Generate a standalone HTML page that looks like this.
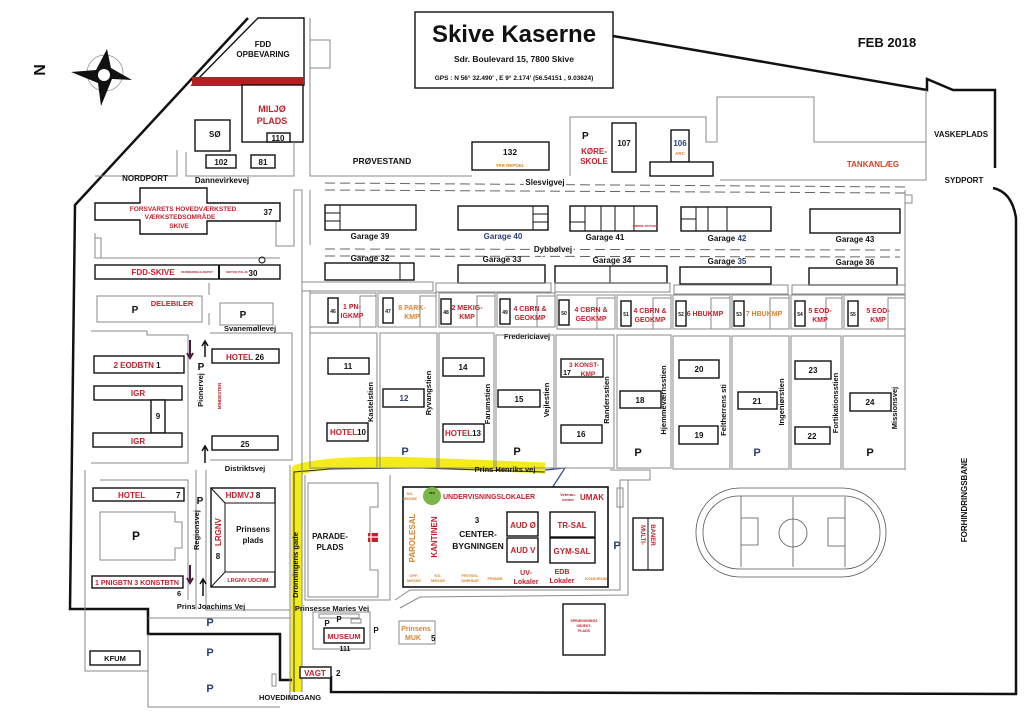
<!DOCTYPE html>
<html><head><meta charset="utf-8"><style>
html,body{margin:0;padding:0;background:#fff;}
svg{display:block;font-family:"Liberation Sans",sans-serif;font-weight:bold;}
.g{fill:none;stroke:#8a8a8a;stroke-width:1}
.b{fill:#fff;stroke:#111;stroke-width:1.4}
.r{fill:#c3202c}
.o{fill:#d8842f}
.n{fill:#2a3f75}
.k{fill:#111}
</style></head><body>
<svg width="1024" height="727" viewBox="0 0 1024 727" xmlns="http://www.w3.org/2000/svg">
<rect width="1024" height="727" fill="#fff"/>
<!-- yellow route -->
<path d="M296 692 L297 470 Q330 460 420 463 L545 468" fill="none" stroke="#f3ec1a" stroke-width="11" stroke-linejoin="round"/>
<path d="M294 692 L294 472 L330 469 L420 468 L545 472" fill="none" stroke="#333" stroke-width="1"/>
<path d="M545 470 L565 468 L552 488" fill="none" stroke="#3040a0" stroke-width="1.2"/>
<!-- thick boundary -->
<path d="M248 18 L75 205 L70 609 L148 609 L148 634 L280 634 L280 680 L292 680" fill="none" stroke="#111" stroke-width="2.5"/>
<path d="M331 676 L331 692 L1016 694 L1016 218 Q1012 192 993 188" fill="none" stroke="#111" stroke-width="2.5"/>
<path d="M613 36 L927 90 L927 79 L953 90 L995 90 L995 168" fill="none" stroke="#111" stroke-width="2.5"/>
<!-- title -->
<rect x="415" y="12" width="198" height="76" class="b" stroke-width="1"/>
<text x="514" y="42" font-size="24" text-anchor="middle" class="k">Skive Kaserne</text>
<text x="514" y="62" font-size="8.5" text-anchor="middle" class="k">Sdr. Boulevard 15,  7800 Skive</text>
<text x="514" y="80" font-size="6.5" text-anchor="middle" class="k">GPS : N 56° 32.490' , E 9° 2.174'  (56.54151 , 9.03624)</text>
<text x="887" y="47" font-size="13" text-anchor="middle" class="k">FEB 2018</text>
<!-- compass -->
<text x="45" y="70" font-size="16" class="k" text-anchor="middle" transform="rotate(-90 45 70)">N</text>
<circle cx="105" cy="73" r="18" fill="none" stroke="#888" stroke-width="0.7"/>
<path d="M107 49 L111 68 L132 80 L112 79 L101 106 L98 83 L71 72 L96 70 Z" fill="#111"/>
<circle cx="104" cy="75" r="6" fill="#fff"/>
<!-- north area -->
<path d="M258 18 L304 18 L304 85 L192 85 Z" class="b" stroke-width="1"/>
<rect x="192" y="77" width="112" height="8" fill="#b61e20"/>
<text x="263" y="47" font-size="8" text-anchor="middle" class="k">FDD</text>
<text x="263" y="57" font-size="8" text-anchor="middle" class="k">OPBEVARING</text>
<rect x="242" y="85" width="61" height="57" class="b" stroke-width="1"/>
<text x="272" y="112" font-size="9" text-anchor="middle" class="r">MILJØ</text>
<text x="272" y="124" font-size="9" text-anchor="middle" class="r">PLADS</text>
<rect x="267" y="133" width="23" height="9" class="b"/><text x="278" y="141" font-size="8" text-anchor="middle" class="k">110</text>
<rect x="195" y="120" width="35" height="31" class="b"/><text x="209" y="137" font-size="8" class="k">SØ</text>
<rect x="206" y="155" width="30" height="13" class="b"/><text x="221" y="165" font-size="8" text-anchor="middle" class="k">102</text>
<rect x="251" y="155" width="24" height="13" class="b"/><text x="263" y="165" font-size="8" text-anchor="middle" class="k">81</text>
<path d="M310 18 L310 176 L472 176 M310 40 L330 40 L330 68 L310 68 M177 150 L177 176 L95 176 M186 152 L186 176 L294 176 L294 142" class="g"/>
<text x="145" y="181" font-size="8" text-anchor="middle" class="k">NORDPORT</text>
<text x="222" y="183" font-size="8" text-anchor="middle" class="k">Dannevirkevej</text>
<text x="382" y="164" font-size="8.5" text-anchor="middle" class="k">PRØVESTAND</text>
<rect x="472" y="142" width="77" height="28" class="b"/>
<text x="510" y="155" font-size="8.5" text-anchor="middle" class="k">132</text>
<text x="510" y="167" font-size="4.5" text-anchor="middle" class="o">TRR REPDEL</text>
<path d="M570 176 L570 117 L706 117 L706 142 L717 142 L717 97 L814 97 L814 142 L926 142 L926 180 L720 180 M926 90 L926 180" class="g"/>
<text x="582" y="139" font-size="10" class="k">P</text>
<text x="594" y="154" font-size="8" text-anchor="middle" class="r">KØRE-</text>
<text x="594" y="164" font-size="8" text-anchor="middle" class="r">SKOLE</text>
<rect x="612" y="123" width="24" height="49" class="b"/><text x="624" y="146" font-size="8" text-anchor="middle" class="k">107</text>
<rect x="671" y="130" width="18" height="32" class="b"/><text x="680" y="146" font-size="8" text-anchor="middle" class="n">106</text>
<text x="680" y="155" font-size="4.5" text-anchor="middle" class="o">ARC</text>
<rect x="650" y="162" width="63" height="14" class="b"/>
<text x="873" y="167" font-size="8" text-anchor="middle" fill="#d0452a">TANKANLÆG</text>
<text x="961" y="137" font-size="8" text-anchor="middle" class="k">VASKEPLADS</text>
<text x="964" y="183" font-size="8" text-anchor="middle" class="k">SYDPORT</text>
<!-- dashed roads -->
<path d="M325 183 L905 187 M325 190 L905 193 M325 249 L900 250 M325 256 L900 257" fill="none" stroke="#666" stroke-width="1" stroke-dasharray="10 5"/>
<text x="545" y="185" font-size="8" text-anchor="middle" fill="#fff" stroke="#fff" stroke-width="4">Slesvigvej</text>
<text x="545" y="185" font-size="8" text-anchor="middle" class="k">Slesvigvej</text>
<text x="553" y="252" font-size="8" text-anchor="middle" fill="#fff" stroke="#fff" stroke-width="4">Dybbølvej</text>
<text x="553" y="252" font-size="8" text-anchor="middle" class="k">Dybbølvej</text>
<!-- left column blocks -->
<path d="M95 203 L140 203 L140 188 L207 188 L207 203 L280 203 L280 221 L276 221 L276 246 L294 246 L294 190 L302 190 L302 290 M95 233 L95 258 L280 258 M95 238 L101 238 L101 258" class="g"/>
<path d="M95 203 L140 203 L140 188 L207 188 L207 203 L280 203 L280 221 L207 221 L207 234 L140 234 L140 220 L95 220 Z" class="b" stroke-width="1"/>
<text x="183" y="211" font-size="6.5" text-anchor="middle" class="r">FORSVARETS HOVEDVÆRKSTED</text>
<text x="180" y="219" font-size="6.5" text-anchor="middle" class="r">VÆRKSTEDSOMRÅDE</text>
<text x="179" y="228" font-size="6.5" text-anchor="middle" class="r">SKIVE</text>
<text x="268" y="215" font-size="8" text-anchor="middle" class="k">37</text>
<circle cx="262" cy="260" r="3" fill="none" stroke="#111"/>
<rect x="95" y="265" width="185" height="14" class="b"/>
<line x1="219" y1="265" x2="219" y2="279" stroke="#111" stroke-width="2"/>
<text x="153" y="275" font-size="8" text-anchor="middle" class="r">FDD-SKIVE</text>
<text x="197" y="273" font-size="3" text-anchor="middle" class="r">MUNDERINGS-DEPOT</text>
<text x="237" y="273" font-size="3" text-anchor="middle" class="r">MOTOR PULJE</text>
<text x="253" y="276" font-size="8" text-anchor="middle" class="k">30</text>
<path d="M97 296 L202 296 L202 322 L97 322 Z M220 303 L273 303 L273 325 L220 325 Z M209 283 L209 295 M209 313 L209 325 M302 290 L302 692 M310 290 L310 460" class="g"/>
<text x="135" y="313" font-size="10" text-anchor="middle" class="k">P</text>
<text x="172" y="306" font-size="7.5" text-anchor="middle" class="r">DELEBILER</text>
<text x="243" y="318" font-size="10" text-anchor="middle" class="k">P</text>
<text x="250" y="331" font-size="7.5" text-anchor="middle" class="k">Svanemøllevej</text>
<path d="M91 331 L147 331 L147 335 L188 335 L188 463 L91 463 M210 333 L292 333 L292 460 L210 460" class="g"/>
<rect x="94" y="356" width="90" height="17" class="b"/><text x="137" y="368" font-size="8" text-anchor="middle" class="r">2 EODBTN <tspan class="k">1</tspan></text>
<rect x="94" y="386" width="88" height="14" class="b"/><text x="138" y="396" font-size="8" text-anchor="middle" class="r">IGR</text>
<rect x="151" y="400" width="14" height="33" class="b"/><text x="158" y="419" font-size="8" text-anchor="middle" class="k">9</text>
<rect x="93" y="433" width="89" height="14" class="b"/><text x="138" y="444" font-size="8" text-anchor="middle" class="r">IGR</text>
<rect x="212" y="349" width="67" height="14" class="b"/><text x="245" y="360" font-size="8" text-anchor="middle"><tspan class="r">HOTEL</tspan><tspan class="k">  26</tspan></text>
<rect x="212" y="436" width="66" height="14" class="b"/><text x="245" y="447" font-size="8" text-anchor="middle" class="k">25</text>
<text x="201" y="370" font-size="10" text-anchor="middle" class="k">P</text>
<text x="203" y="390" font-size="7.5" text-anchor="middle" class="k" transform="rotate(-90 203 390)">Pionervej</text>
<text x="221" y="396" font-size="4.5" text-anchor="middle" class="r" transform="rotate(-90 221 396)">MINDESTEN</text>
<path d="M190 340 L190 357 M187 353 L190 358 L193 353" stroke="#4a1a40" stroke-width="2" fill="none"/>
<path d="M205 342 L205 357 M202 346 L205 341 L208 346" stroke="#111" stroke-width="1.5" fill="none"/>
<path d="M205 447 L205 463 M202 451 L205 446 L208 451" stroke="#111" stroke-width="1.5" fill="none"/>
<text x="245" y="471" font-size="7.5" text-anchor="middle" class="k">Distriktsvej</text>
<!-- garages -->
<rect x="325" y="205" width="91" height="25" class="b"/><path d="M340 205 L340 230 M325 213 L340 213 M325 221 L340 221" stroke="#111"/>
<rect x="458" y="206" width="90" height="24" class="b"/><path d="M533 206 L533 230 M533 214 L548 214 M533 222 L548 222" stroke="#111"/>
<rect x="570" y="206" width="87" height="25" class="b"/><path d="M585 206 L585 231 M570 222 L585 222 M601 206 L601 231 M615 206 L615 231 M634 206 L634 231" stroke="#111"/>
<text x="645" y="227" font-size="3" text-anchor="middle" class="r">SMØRE-STATION</text>
<rect x="681" y="207" width="90" height="24" class="b"/><path d="M696 207 L696 231 M681 219 L696 219 M708 207 L708 231 M727 207 L727 231" stroke="#111"/>
<rect x="810" y="209" width="90" height="24" class="b"/>
<text x="370" y="239" font-size="8" text-anchor="middle" class="k">Garage 39</text>
<text x="503" y="239" font-size="8" text-anchor="middle" class="n">Garage 40</text>
<text x="605" y="240" font-size="8" text-anchor="middle" class="k">Garage 41</text>
<text x="727" y="241" font-size="8" text-anchor="middle"><tspan class="k">Garage </tspan><tspan class="n">42</tspan></text>
<text x="855" y="242" font-size="8" text-anchor="middle" class="k">Garage 43</text>
<text x="370" y="261" font-size="8" text-anchor="middle" class="k">Garage 32</text>
<text x="502" y="262" font-size="8" text-anchor="middle" class="k">Garage 33</text>
<text x="612" y="263" font-size="8" text-anchor="middle" class="k">Garage 34</text>
<text x="727" y="264" font-size="8" text-anchor="middle"><tspan class="k">Garage </tspan><tspan class="n">35</tspan></text>
<text x="855" y="265" font-size="8" text-anchor="middle" class="k">Garage 36</text>
<rect x="325" y="263" width="89" height="17" class="b"/><line x1="400" y1="263" x2="400" y2="280" stroke="#111"/>
<rect x="458" y="265" width="87" height="18" class="b"/>
<rect x="555" y="266" width="112" height="17" class="b"/><line x1="610" y1="266" x2="610" y2="283" stroke="#111"/>
<rect x="680" y="267" width="91" height="17" class="b"/>
<rect x="809" y="268" width="88" height="17" class="b"/>
<path d="M302 282 L433 282 L433 291 L302 291 Z M436 283 L551 283 L551 292 L436 292 Z M555 283 L670 283 L670 292 L555 292 Z M674 285 L788 285 L788 294 L674 294 Z M792 285 L905 285 L905 294 L792 294 Z M905 190 L905 470 M310 190 L310 245 M905 195 L912 195 L912 203 L905 203" class="g"/>
<!-- small buildings row -->
<g class="g">
<rect x="310" y="293" width="66" height="34"/><rect x="378" y="293" width="58" height="34"/><rect x="439" y="293" width="56" height="34"/><rect x="497" y="293" width="58" height="34"/><rect x="557" y="295" width="58" height="34"/><rect x="617" y="295" width="54" height="34"/><rect x="673" y="295" width="57" height="34"/><rect x="732" y="295" width="57" height="34"/><rect x="791" y="295" width="51" height="34"/><rect x="844" y="295" width="61" height="34"/>
<rect x="360" y="296" width="16" height="31"/><rect x="420" y="296" width="16" height="31"/><rect x="477" y="296" width="18" height="31"/><rect x="537" y="296" width="18" height="31"/><rect x="597" y="298" width="18" height="31"/><rect x="653" y="298" width="18" height="31"/><rect x="711" y="298" width="19" height="31"/><rect x="770" y="298" width="19" height="31"/><rect x="826" y="298" width="16" height="31"/><rect x="888" y="298" width="17" height="31"/>
</g>
<g font-size="5" text-anchor="middle" class="k">
<rect x="328" y="298" width="10" height="25" class="b"/><text x="333" y="313">46</text>
<rect x="383" y="298" width="10" height="25" class="b"/><text x="388" y="313">47</text>
<rect x="441" y="299" width="10" height="25" class="b"/><text x="446" y="314">48</text>
<rect x="500" y="299" width="10" height="25" class="b"/><text x="505" y="314">49</text>
<rect x="559" y="300" width="10" height="25" class="b"/><text x="564" y="315">50</text>
<rect x="621" y="301" width="10" height="25" class="b"/><text x="626" y="316">51</text>
<rect x="676" y="301" width="10" height="25" class="b"/><text x="681" y="316">52</text>
<rect x="734" y="301" width="10" height="25" class="b"/><text x="739" y="316">53</text>
<rect x="795" y="301" width="10" height="25" class="b"/><text x="800" y="316">54</text>
<rect x="848" y="301" width="10" height="25" class="b"/><text x="853" y="316">55</text>
</g>
<g font-size="7" text-anchor="middle">
<text x="352" y="309" class="r">1 PN-</text><text x="352" y="318" class="r">IGKMP</text>
<text x="412" y="310" class="o">8 PARK-</text><text x="412" y="319" class="o">KMP</text>
<text x="467" y="310" class="r">2 MEKIG-</text><text x="467" y="319" class="r">KMP</text>
<text x="530" y="311" class="r">4 CBRN &amp;</text><text x="530" y="320" class="r">GEOKMP</text>
<text x="591" y="312" class="r">4 CBRN &amp;</text><text x="591" y="321" class="r">GEOKMP</text>
<text x="650" y="313" class="r">4 CBRN &amp;</text><text x="650" y="322" class="r">GEOKMP</text>
<text x="705" y="316" class="r">6 HBUKMP</text>
<text x="764" y="316" class="o">7 HBUKMP</text>
<text x="820" y="313" class="r">5 EOD-</text><text x="820" y="322" class="r">KMP</text>
<text x="878" y="313" class="r">5 EOD-</text><text x="878" y="322" class="r">KMP</text>
</g>
<text x="527" y="339" font-size="7.5" text-anchor="middle" class="k">Fredericiavej</text>
<!-- big blocks -->
<g class="g">
<rect x="310" y="333" width="67" height="135"/><rect x="380" y="333" width="57" height="135"/><rect x="439" y="333" width="55" height="135"/><rect x="496" y="335" width="58" height="133"/><rect x="556" y="335" width="58" height="133"/><rect x="617" y="335" width="54" height="133"/><rect x="673" y="336" width="57" height="133"/><rect x="732" y="336" width="57" height="133"/><rect x="791" y="336" width="50" height="133"/><rect x="843" y="336" width="62" height="133"/>
</g>
<g font-size="8" text-anchor="middle" class="k">
<rect x="328" y="358" width="41" height="16" class="b"/><text x="348" y="369">11</text>
<rect x="327" y="423" width="41" height="18" class="b"/><text x="348" y="435"><tspan class="r">HOTEL</tspan>10</text>
<rect x="383" y="389" width="41" height="18" class="b"/><text x="404" y="401" class="n">12</text>
<rect x="443" y="358" width="41" height="18" class="b"/><text x="463" y="370">14</text>
<rect x="443" y="424" width="41" height="18" class="b"/><text x="463" y="436"><tspan class="r">HOTEL</tspan>13</text>
<rect x="498" y="390" width="42" height="17" class="b"/><text x="519" y="402">15</text>
<rect x="561" y="359" width="42" height="18" class="b"/><text x="584" y="367" font-size="6.5" class="r">3 KONST-</text><text x="567" y="375" font-size="7">17</text><text x="588" y="376" font-size="6.5" class="r">KMP</text>
<rect x="561" y="425" width="41" height="18" class="b"/><text x="581" y="437">16</text>
<rect x="620" y="391" width="41" height="17" class="b"/><text x="640" y="403">18</text>
<rect x="679" y="360" width="40" height="18" class="b"/><text x="699" y="372">20</text>
<rect x="679" y="426" width="39" height="18" class="b"/><text x="699" y="438">19</text>
<rect x="738" y="392" width="39" height="17" class="b"/><text x="757" y="404">21</text>
<rect x="795" y="361" width="36" height="18" class="b"/><text x="813" y="373">23</text>
<rect x="795" y="427" width="35" height="17" class="b"/><text x="812" y="439">22</text>
<rect x="850" y="393" width="41" height="18" class="b"/><text x="870" y="405">24</text>
</g>
<g font-size="11" text-anchor="middle">
<text x="405" y="455" class="n">P</text><text x="517" y="455" class="k">P</text><text x="638" y="456" class="k">P</text><text x="757" y="456" class="n">P</text><text x="870" y="456" class="k">P</text>
</g>
<g font-size="7.5" class="k" text-anchor="middle">
<text transform="translate(373,402) rotate(-90)">Kastelstien</text>
<text transform="translate(431,393) rotate(-90)">Ryvangstien</text>
<text transform="translate(490,404) rotate(-90)">Farumstien</text>
<text transform="translate(549,400) rotate(-90)">Vejlestien</text>
<text transform="translate(609,400) rotate(-90)">Randersstien</text>
<text transform="translate(666,400) rotate(-90)">Hjemmeværnsstien</text>
<text transform="translate(726,410) rotate(-90)">Feltherrens sti</text>
<text transform="translate(784,402) rotate(-90)">Ingeniørstien</text>
<text transform="translate(838,403) rotate(-90)">Fortikationsstien</text>
<text transform="translate(897,408) rotate(-90)">Missionsvej</text>
</g>
<text x="505" y="472" font-size="7.5" text-anchor="middle" class="k">Prins Henriks vej</text>
<!-- lower left -->
<path d="M85 470 L85 609 M85 609 L85 671 L148 671 M148 634 L148 707 L280 707 M290 465 L290 700 M100 480 L188 480 L188 600 M196 470 L196 610 M206 470 L206 610 L290 610 M148 618 L290 618" class="g"/>
<rect x="93" y="488" width="91" height="13" class="b"/><text x="118" y="498" font-size="8" class="r">HOTEL</text><text x="176" y="498" font-size="8" class="k">7</text>
<path d="M100 512 L175 512 L175 522 L182 522 L182 548 L175 548 L175 560 L100 560 Z" class="g"/>
<text x="136" y="540" font-size="12" text-anchor="middle" class="k">P</text>
<rect x="92" y="576" width="91" height="12" class="b"/><text x="137" y="585" font-size="7" text-anchor="middle" class="r">1 PNIGBTN  3 KONSTBTN</text>
<text x="177" y="596" font-size="7.5" class="k">6</text>
<text x="200" y="504" font-size="10" text-anchor="middle" class="k">P</text>
<text transform="translate(199,530) rotate(-90)" font-size="7.5" text-anchor="middle" class="k">Regionsvej</text>
<path d="M190 565 L190 582 M187 578 L190 583 L193 578" stroke="#4a1a40" stroke-width="2" fill="none"/>
<path d="M203 580 L203 596 M200 584 L203 579 L206 584" stroke="#111" stroke-width="1.5" fill="none"/>
<rect x="211" y="488" width="64" height="99" class="b"/>
<rect x="225" y="503" width="50" height="69" fill="#fff" stroke="#111" stroke-width="1"/>
<path d="M211 488 L225 503 M211 587 L225 572" stroke="#111"/>
<text x="243" y="498" font-size="8" text-anchor="middle"><tspan class="r">HDMVJ</tspan><tspan class="k">  8</tspan></text>
<text transform="translate(221,532) rotate(-90)" font-size="8" text-anchor="middle" class="r">LRGNV</text>
<text x="218" y="559" font-size="8" text-anchor="middle" class="k">8</text>
<text x="248" y="582" font-size="5.5" text-anchor="middle" class="r">LRGNV  UDCNM</text>
<text x="253" y="532" font-size="8" text-anchor="middle" class="k">Prinsens</text>
<text x="253" y="543" font-size="8" text-anchor="middle" class="k">plads</text>
<text transform="translate(298,565) rotate(-90)" font-size="7.5" text-anchor="middle" class="k">Dronningens gade</text>
<text x="211" y="609" font-size="7.5" text-anchor="middle" class="k">Prins Joachims Vej</text>
<text x="210" y="626" font-size="11" text-anchor="middle" class="n">P</text>
<text x="210" y="656" font-size="11" text-anchor="middle" class="n">P</text>
<text x="210" y="692" font-size="11" text-anchor="middle" class="n">P</text>
<rect x="90" y="651" width="50" height="14" class="b"/><text x="115" y="661" font-size="7.5" text-anchor="middle" class="k">KFUM</text>
<text x="290" y="700" font-size="7.5" text-anchor="middle" class="k">HOVEDINDGANG</text>
<rect x="300" y="667" width="31" height="11" class="b"/><text x="315" y="676" font-size="8" text-anchor="middle" class="r">VAGT</text>
<text x="336" y="676" font-size="8" class="k">2</text>
<rect x="272" y="674" width="4" height="12" class="g"/>
<!-- parade -->
<path d="M308 483 L378 483 L378 507 L370 507 L370 570 L378 570 L378 597 L308 597 Z M305 475 L305 600 L390 600 L390 475" class="g"/>
<text x="330" y="539" font-size="8" text-anchor="middle" class="k">PARADE-</text>
<text x="330" y="550" font-size="8" text-anchor="middle" class="k">PLADS</text>
<rect x="368" y="533" width="10" height="9" fill="#c3202c"/><path d="M368 537 L378 537 M371 533 L371 542" stroke="#fff" stroke-width="1.2"/>
<!-- center building -->
<rect x="403" y="487" width="205" height="100" fill="#fff" stroke="#111" stroke-width="1.6"/>
<circle cx="432" cy="496" r="9" fill="#7ab648"/>
<text x="432" y="494" font-size="3" text-anchor="middle" class="k">FES</text>
<text x="410" y="495" font-size="4" text-anchor="middle" class="o">SG-</text><text x="410" y="500" font-size="4" text-anchor="middle" class="o">MESSE</text>
<text x="489" y="499" font-size="7" text-anchor="middle" class="r">UNDERVISNINGSLOKALER</text>
<text x="568" y="496" font-size="4" text-anchor="middle" class="r">Veteran-</text><text x="568" y="501" font-size="4" text-anchor="middle" class="r">center</text>
<text x="592" y="500" font-size="8" text-anchor="middle" class="r">UMAK</text>
<text transform="translate(415,538) rotate(-90)" font-size="8" text-anchor="middle" class="o">PAROLESAL</text>
<text transform="translate(437,537) rotate(-90)" font-size="8" text-anchor="middle" class="r">KANTINEN</text>
<text x="477" y="523" font-size="8" text-anchor="middle" class="k">3</text>
<text x="478" y="537" font-size="8.5" text-anchor="middle" class="k">CENTER-</text>
<text x="478" y="549" font-size="8.5" text-anchor="middle" class="k">BYGNINGEN</text>
<rect x="507" y="512" width="31" height="24" class="b" stroke-width="1"/><text x="523" y="528" font-size="8" text-anchor="middle" class="r">AUD Ø</text>
<rect x="507" y="538" width="31" height="24" class="b" stroke-width="1"/><text x="523" y="553" font-size="8" text-anchor="middle" class="r">AUD V</text>
<rect x="550" y="512" width="45" height="25" class="b" stroke-width="1"/><text x="572" y="528" font-size="8" text-anchor="middle" class="r">TR-SAL</text>
<rect x="550" y="538" width="45" height="25" class="b" stroke-width="1"/><text x="572" y="554" font-size="8" text-anchor="middle" class="r">GYM-SAL</text>
<g font-size="4" text-anchor="middle" class="o">
<text x="414" y="577">OFF-</text><text x="414" y="582">MESSE</text>
<text x="438" y="577">KS-</text><text x="438" y="582">MESSE</text>
<text x="470" y="577">FRITIDS-</text><text x="470" y="582">OMRÅDE</text>
<text x="495" y="580">FRISØR</text>
<text x="596" y="580">KONDIRUM</text>
</g>
<text x="526" y="575" font-size="7" text-anchor="middle" class="r">UV-</text><text x="526" y="584" font-size="7" text-anchor="middle" class="r">Lokaler</text>
<text x="562" y="574" font-size="7" text-anchor="middle" class="r">EDB</text><text x="562" y="583" font-size="7" text-anchor="middle" class="r">Lokaler</text>
<path d="M395 600 L410 590 L620 590 L620 480 L628 480 L628 595 L420 597 L400 608 M610 470 L650 470 L650 480 L620 480" class="g"/>
<rect x="617" y="488" width="6" height="19" class="g"/>
<text x="617" y="549" font-size="11" text-anchor="middle" class="n">P</text>
<rect x="633" y="518" width="30" height="52" class="b"/><line x1="648" y1="518" x2="648" y2="570" stroke="#111"/>
<text transform="translate(641,535) rotate(90)" font-size="6" text-anchor="middle" class="r">MULTI-</text>
<text transform="translate(651,535) rotate(90)" font-size="6" text-anchor="middle" class="r">BANER</text>
<!-- track -->
<rect x="696" y="488" width="190" height="89" rx="44" fill="none" stroke="#555" stroke-width="0.8"/>
<rect x="703" y="496" width="177" height="73" rx="36" fill="none" stroke="#555" stroke-width="0.8"/>
<path d="M741 496 L741 567 M793 497 L793 567 M845 497 L845 567 M741 518 L758 518 L758 545 L741 545 M845 518 L828 518 L828 546 L845 546" fill="none" stroke="#555" stroke-width="0.8"/>
<circle cx="793" cy="533" r="14" fill="none" stroke="#555" stroke-width="0.8"/>
<text transform="translate(967,500) rotate(-90)" font-size="8" text-anchor="middle" class="k">FORHINDRINGSBANE</text>
<rect x="563" y="604" width="42" height="51" class="b"/>
<text x="584" y="622" font-size="3.5" text-anchor="middle" class="r">SPRÆNGNINGS</text><text x="584" y="627" font-size="3.5" text-anchor="middle" class="r">OBJEKT-</text><text x="584" y="632" font-size="3.5" text-anchor="middle" class="r">PLADS</text>
<rect x="399" y="621" width="36" height="23" class="g" stroke="#333"/>
<text x="416" y="631" font-size="7" text-anchor="middle" class="o">Prinsens</text>
<text x="413" y="640" font-size="7" text-anchor="middle" class="o">MUK</text><text x="431" y="641" font-size="8" class="k">5</text>
<text x="332" y="611" font-size="7.5" text-anchor="middle" class="k">Prinsesse Maries Vej</text>
<rect x="313" y="612" width="57" height="37" class="g"/>
<rect x="319" y="614" width="40" height="4" class="g"/>
<text x="339" y="622" font-size="8" text-anchor="middle" class="k">P</text>
<text x="327" y="626" font-size="8" text-anchor="middle" class="k">P</text>
<text x="376" y="633" font-size="8" text-anchor="middle" class="k">P</text>
<rect x="351" y="619" width="10" height="4" class="g"/>
<rect x="324" y="628" width="40" height="15" class="b"/><text x="344" y="639" font-size="7.5" text-anchor="middle" class="r">MUSEUM</text>
<text x="345" y="651" font-size="7" text-anchor="middle" class="k">111</text>
</svg>
</body></html>
